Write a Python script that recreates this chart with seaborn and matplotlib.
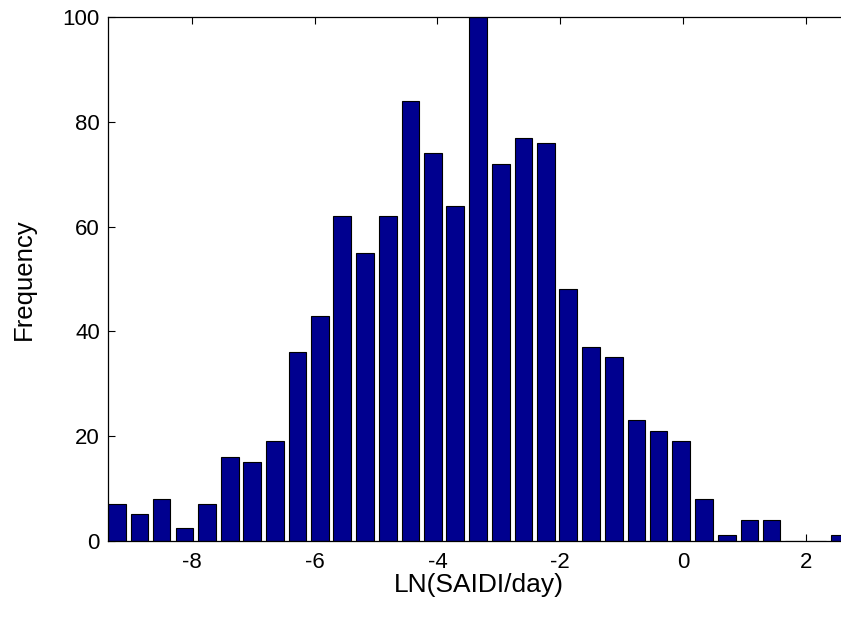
"""Histogram of LN(SAIDI/day) drawn as a MATLAB-style bar chart."""

import matplotlib

matplotlib.use("Agg")
import matplotlib.pyplot as plt
import numpy as np
import pandas as pd
import seaborn as sns

# Bin centres (LN(SAIDI/day)) and counts
bin_centers = [
    -9.22, -8.85, -8.49, -8.12, -7.75, -7.38, -7.02, -6.65, -6.28, -5.91,
    -5.55, -5.18, -4.81, -4.44, -4.07, -3.71, -3.34, -2.97, -2.60, -2.23,
    -1.87, -1.50, -1.13, -0.76, -0.40, -0.03, 0.34, 0.71, 1.08, 1.44,
    1.81, 2.18, 2.55,
]
counts = [
    7, 5, 8, 2.3, 7, 16, 15, 19, 36, 43,
    62, 55, 62, 84, 74, 64, 100, 72, 77, 76,
    48, 37, 35, 23, 21, 19, 8, 1, 4, 4,
    0, 0, 1,
]
x_ticks = [-8, -6, -4, -2, 0, 2]
y_ticks = [0, 20, 40, 60, 80, 100]

df = pd.DataFrame({"ln_saidi": bin_centers, "freq": counts})

sns.set_style("ticks")
plt.rcParams["font.family"] = ["Liberation Sans", "DejaVu Sans"]

fig = plt.figure(figsize=(8.41, 6.18), dpi=100)
# axes run a little past the right edge of the figure, like the cropped original
ax = fig.add_axes([0.1288, 0.1254, 0.8819, 0.8466])

sns.barplot(
    data=df,
    x="ln_saidi",
    y="freq",
    native_scale=True,
    width=0.8,
    color="#00008F",
    saturation=1,
    edgecolor="black",
    linewidth=0.8,
    errorbar=None,
    ax=ax,
)

ax.set_xlim(-9.358, 2.716)
ax.set_ylim(0, 100)
ax.set_xticks(x_ticks)
ax.set_yticks(y_ticks)
ax.set_xticklabels([str(t) for t in x_ticks])

ax.tick_params(
    axis="both", direction="in", length=5, width=0.8, labelsize=16,
    top=True, right=True, colors="black",
)
ax.tick_params(axis="x", pad=8)
ax.tick_params(axis="y", pad=6)
for side in ["left", "bottom", "top", "right"]:
    ax.spines[side].set_visible(True)
    ax.spines[side].set_linewidth(0.9)
    ax.spines[side].set_color("black")

ax.set_xlabel("LN(SAIDI/day)", fontsize=19, color="black", labelpad=0)
ax.set_ylabel("Frequency", fontsize=18.5, color="black", labelpad=19)

fig.savefig("out.png", dpi=100)
